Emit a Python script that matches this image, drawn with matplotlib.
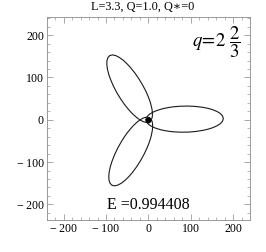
import matplotlib
matplotlib.use("Agg")
import matplotlib.pyplot as plt
import numpy as np

# one leaf of the orbit: angle from leaf axis (deg) and radius
leaf_phi = [0, 2, 4, 6, 8, 10, 12, 15, 18, 22, 26, 30, 35, 40, 50, 60, 75, 90, 120, 150, 180]
leaf_r = [177, 175.4, 170.5, 162.9, 153.3, 142.6, 131.3, 114.7, 99.5, 81.9, 67.8,
          56.5, 45.6, 37.4, 26.4, 19.7, 13.8, 10.5, 7.1, 5.8, 5.4]
# direction of each leaf's apoapsis (deg)
leaf_axes = [1, 121, 241]

ticks = [-200, -100, 0, 100, 200]
tick_labels = ["\u2212\u2009200", "\u2212\u2009100", "0", "100", "200"]
title = "L=3.3, Q=1.0, Q\u2217=0"
energy = "E =0.994408"

plt.rcParams["font.family"] = ["Liberation Serif", "DejaVu Serif"]
plt.rcParams["mathtext.fontset"] = "stix"

fig = plt.figure(figsize=(2.66, 2.52), dpi=100)
ax = fig.add_axes([46.7 / 266, 1 - 220 / 252, 203.3 / 266, 203 / 252])

phi = np.radians(np.concatenate([-np.array(leaf_phi[::-1]), leaf_phi[1:]]))
r = np.concatenate([leaf_r[::-1], leaf_r[1:]])
for a in leaf_axes:
    t = phi + np.radians(a)
    ax.plot(r * np.cos(t), r * np.sin(t), color="#1a1a1a", lw=0.8)

ax.plot([0], [0], "o", color="black", ms=3.2)

ax.set_xlim(-240, 240)
ax.set_ylim(-237, 243)
ax.set_xticks(ticks)
ax.set_yticks(ticks)
ax.set_xticklabels(tick_labels)
ax.set_yticklabels(tick_labels)
ax.set_xticks(np.arange(-240, 241, 20), minor=True)
ax.set_yticks(np.arange(-220, 241, 20), minor=True)
ax.tick_params(which="both", direction="in", top=True, right=True,
               color="#999999", labelsize=8.6, pad=2)
ax.tick_params(which="major", length=4, width=0.6)
ax.tick_params(which="minor", length=2, width=0.5)
for s in ax.spines.values():
    s.set_color("#999999")
    s.set_linewidth(0.7)

fig.text(143 / 266, 1 - 7 / 252, title, ha="center", va="center", fontsize=8.8)
ax.text(0.951, 0.877, r"$q\!=\!2\ \dfrac{2}{3}$", transform=ax.transAxes,
        ha="right", va="center", fontsize=13.5)
ax.text(0.5, 0.075, energy, transform=ax.transAxes, ha="center", va="center", fontsize=11.5)

fig.savefig("out.png", dpi=100)
